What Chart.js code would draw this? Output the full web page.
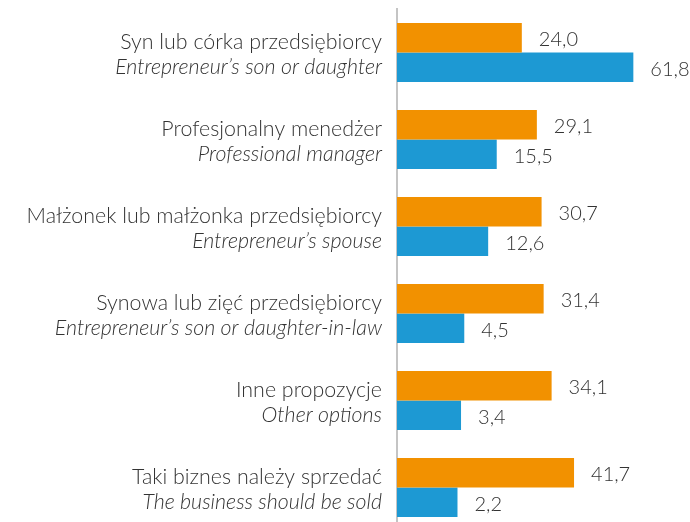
<!DOCTYPE html>
<html>
<head>
<meta charset="utf-8">
<script src="https://cdn.jsdelivr.net/npm/chart.js@4"></script>
<style>
  html, body { margin: 0; padding: 0; background: #fff; overflow: hidden; }
  #wrap { position: relative; width: 690px; height: 532px; }
</style>
</head>
<body>
<div id="wrap"><canvas id="chart"></canvas></div>
<script>
const labelsPl = [
  "Syn lub córka przedsiębiorcy",
  "Profesjonalny menedżer",
  "Małżonek lub małżonka przedsiębiorcy",
  "Synowa lub zięć przedsiębiorcy",
  "Inne propozycje",
  "Taki biznes należy sprzedać"
];
const labelsEn = [
  "Entrepreneur’s son or daughter",
  "Professional manager",
  "Entrepreneur’s spouse",
  "Entrepreneur’s son or daughter-in-law",
  "Other options",
  "The business should be sold"
];
const orangeValues = [24.0, 29.1, 30.7, 31.4, 34.1, 41.7];
const blueValues = [61.8, 15.5, 12.6, 4.5, 3.4, 2.2];

const ORANGE = "#f29100";
const BLUE = "#1d99d3";
const TEXT = "#333333";
const FONT = "Lato, 'Open Sans', sans-serif";
const AXIS_MIN = -18.3;
const AXIS_MAX = 81;

// two-line category labels: Polish regular, English italic
const categoryLabels = {
  id: "categoryLabels",
  afterDraw(chart) {
    const ctx = chart.ctx;
    const yScale = chart.scales.y;
    const x = chart.chartArea.left - 15;
    ctx.save();
    ctx.fillStyle = TEXT;
    ctx.textAlign = "right";
    ctx.textBaseline = "alphabetic";
    labelsPl.forEach((pl, i) => {
      const y = yScale.getPixelForValue(i);
      ctx.font = "300 21.4px " + FONT;
      ctx.fillText(pl, x, y - 4);
      ctx.font = "italic 300 21.4px " + FONT;
      ctx.fillText(labelsEn[i], x, y + 21);
    });
    ctx.restore();
  }
};

// value labels at the end of each bar, comma decimal
const valueLabels = {
  id: "valueLabels",
  afterDatasetsDraw(chart) {
    const ctx = chart.ctx;
    ctx.save();
    ctx.fillStyle = TEXT;
    ctx.font = "300 20px " + FONT;
    ctx.textAlign = "left";
    ctx.textBaseline = "middle";
    chart.data.datasets.forEach((ds, di) => {
      chart.getDatasetMeta(di).data.forEach((bar, i) => {
        const txt = ds.data[i].toFixed(1).replace(".", ",");
        ctx.fillText(txt, bar.x + 17, bar.y + 2);
      });
    });
    ctx.restore();
  }
};

const ctx = document.getElementById("chart").getContext("2d");
new Chart(ctx, {
  type: "bar",
  data: {
    labels: labelsPl,
    datasets: [
      {
        data: orangeValues,
        backgroundColor: ORANGE,
        base: AXIS_MIN,
        categoryPercentage: 0.678,
        barPercentage: 1.0,
      },
      {
        data: blueValues,
        backgroundColor: BLUE,
        base: AXIS_MIN,
        categoryPercentage: 0.678,
        barPercentage: 1.0,
      },
    ],
  },
  options: {
    indexAxis: "y",
    responsive: true,
    maintainAspectRatio: false,
    animation: false,
    layout: { padding: { top: 9, right: 0, bottom: 1, left: 0 } },
    plugins: {
      legend: { display: false },
      tooltip: { enabled: false },
    },
    scales: {
      x: {
        display: false,
        min: AXIS_MIN,
        max: AXIS_MAX,
      },
      y: {
        display: true,
        grid: { display: false, drawTicks: false },
        border: { display: true, color: "#c4c4c4", width: 2 },
        ticks: { display: false },
        afterFit(scale) {
          scale.width = 397;
        },
      },
    },
  },
  plugins: [categoryLabels, valueLabels],
});
</script>
</body>
</html>
